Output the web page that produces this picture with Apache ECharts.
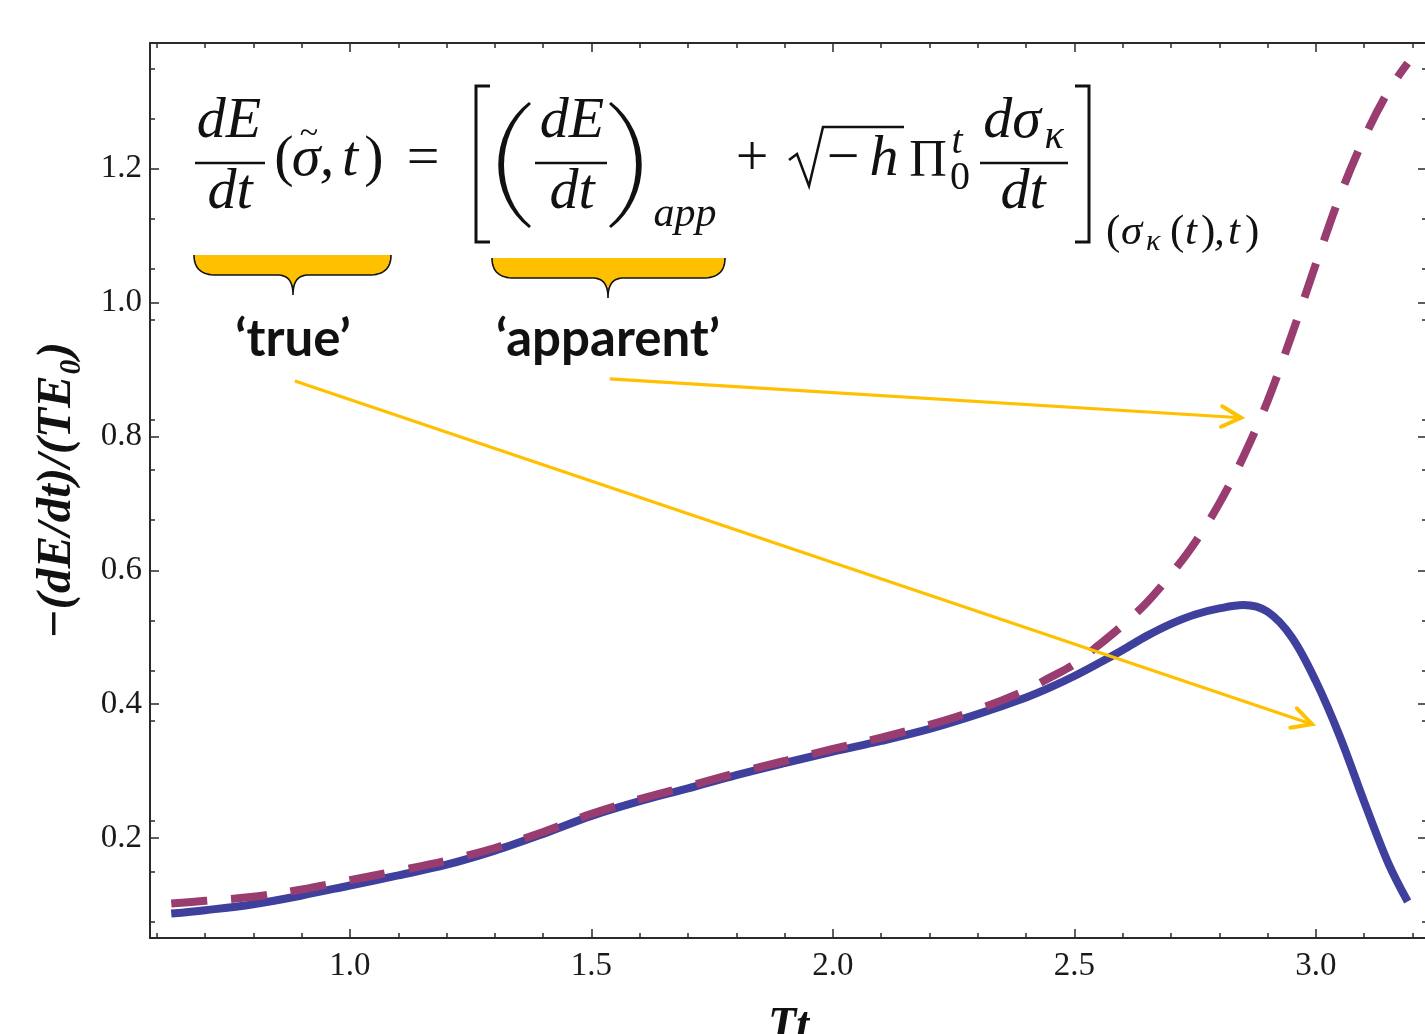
<!DOCTYPE html>
<html>
<head>
<meta charset="utf-8">
<title>-(dE/dt)/(TE0) vs Tt</title>
<script src="https://cdn.jsdelivr.net/npm/echarts@6/dist/echarts.min.js"></script>
<style>
    html, body { margin: 0; padding: 0; background: #fff; }
    #chart { width: 1425px; height: 1034px; }
</style>
</head>
<body>
<div id="chart"></div>
<script>
// Tt samples shared by both curves
const tt = [0.63, 0.7, 0.8, 0.9, 1.0, 1.1, 1.2, 1.3, 1.4, 1.5, 1.6, 1.7, 1.8, 1.9, 2.0,
    2.1, 2.2, 2.3, 2.4, 2.45, 2.5, 2.55, 2.6, 2.65, 2.7, 2.75, 2.8, 2.85, 2.9, 2.95,
    3.0, 3.05, 3.1, 3.15, 3.19];

// 'true' rate (solid)
const trueRate = [0.087, 0.092, 0.101, 0.114, 0.129, 0.144, 0.160, 0.181, 0.206, 0.233,
    0.255, 0.274, 0.294, 0.312, 0.329, 0.345, 0.363, 0.385, 0.410, 0.425, 0.442, 0.461,
    0.481, 0.502, 0.520, 0.534, 0.543, 0.548, 0.538, 0.500, 0.434, 0.351, 0.254, 0.162, 0.105];

// 'apparent' rate (dashed)
const apparentRate = [0.102, 0.106, 0.112, 0.123, 0.137, 0.151, 0.166, 0.185, 0.209, 0.236,
    0.258, 0.277, 0.297, 0.315, 0.333, 0.350, 0.369, 0.392, 0.421, 0.440, 0.460, 0.488,
    0.518, 0.552, 0.594, 0.642, 0.700, 0.770, 0.853, 0.952, 1.058, 1.160, 1.246, 1.316, 1.358];

const xTicks = [1.0, 1.5, 2.0, 2.5, 3.0];
const yTicks = [0.2, 0.4, 0.6, 0.8, 1.0, 1.2];

const xMin = 0.586, xMax = 3.23;
const yMin = 0.0505, yMax = 1.388;

// annotation arrows, in data coordinates [from, to]
const arrows = [
    [[0.886, 0.883], [2.992, 0.370]],
    [[1.538, 0.886], [2.845, 0.828]]
];

const frame = '#2a2a2a';
const ink = '#111';
const yellow = '#FFC000';
const serif = 'Liberation Serif';

// text helper: size in px, it = italic
const txt = (text, x, y, size, it, align, family, weight) => ({
    type: 'text', x: x, y: y, silent: true, z: 20,
    style: {
        text: text,
        fontFamily: family || serif,
        fontSize: size,
        fontStyle: it ? 'italic' : 'normal',
        fontWeight: weight || 'normal',
        fill: ink,
        align: align || 'center', textAlign: align || 'center',
        verticalAlign: 'middle', textVerticalAlign: 'middle'
    }
});
const seg = (points, w) => ({
    type: 'polyline', silent: true, z: 20,
    shape: { points: points },
    style: { stroke: ink, lineWidth: w || 2.5, fill: 'none' }
});
const bar = (x1, x2, y) => seg([[x1, y], [x2, y]], 2.5);

// sample a path made of ['M',x,y] ['L',x,y] ['C',x1,y1,x2,y2,x,y] into points
const sample = (cmds) => {
    const out = [];
    let cur = [0, 0];
    cmds.forEach(c => {
        if (c[0] === 'M' || c[0] === 'L') {
            cur = [c[1], c[2]];
            out.push(cur);
        } else {
            const p0 = cur, p1 = [c[1], c[2]], p2 = [c[3], c[4]], p3 = [c[5], c[6]];
            for (let i = 1; i <= 16; i++) {
                const s = i / 16, r = 1 - s;
                out.push([
                    r * r * r * p0[0] + 3 * r * r * s * p1[0] + 3 * r * s * s * p2[0] + s * s * s * p3[0],
                    r * r * r * p0[1] + 3 * r * r * s * p1[1] + 3 * r * s * s * p2[1] + s * s * s * p3[1]
                ]);
            }
            cur = p3;
        }
    });
    return out;
};
const blob = (cmds, fill) => ({
    type: 'polygon', silent: true, z: 20,
    shape: { points: sample(cmds) },
    style: { fill: fill, stroke: null }
});

const brace = (x0, x1, xm, top) => {
    const b = top + 20, tip = top + 40;
    const lower = [
        ['M', x0, top], ['C', x0, b - 6, x0 + 8, b, x0 + 22, b], ['L', xm - 16, b],
        ['C', xm - 5, b, xm, b + 6, xm, tip], ['C', xm, b + 6, xm + 5, b, xm + 16, b],
        ['L', x1 - 22, b], ['C', x1 - 8, b, x1, b - 6, x1, top]
    ];
    return [
        blob(lower, yellow),
        { ...seg(sample(lower), 1.6), z: 21 }
    ];
};

const paren = (x0, xOut, xIn, top, bottom, dir) => {
    const w = 2 * dir;
    return blob([
        ['M', x0, top], ['C', xOut, top + 32, xOut, bottom - 32, x0, bottom],
        ['L', x0 + w, bottom - 2], ['C', xIn, bottom - 32, xIn, top + 32, x0 + w, top + 2]
    ], ink);
};

const formula = [
    txt('dE', 229, 122, 58, true), bar(195, 265, 163), txt('dt', 230, 193, 58, true),
    txt('(', 284, 160, 58), txt('σ', 306, 160, 58, true), txt('~', 309, 134, 34),
    txt(',', 327, 160, 58, true), txt('t', 350, 160, 58, true), txt(')', 374, 160, 58),
    txt('=', 423, 160, 58),
    seg([[490, 86], [476, 86], [476, 242], [490, 242]], 3),
    paren(529, 488, 495, 102, 228, 1),
    txt('dE', 572, 122, 58, true), bar(535, 607, 163), txt('dt', 572, 193, 58, true),
    paren(611, 652, 645, 102, 228, -1),
    txt('app', 685, 215, 42, true),
    txt('+', 752, 160, 58),
    seg([[789, 160], [797, 154], [809, 186], [823, 127], [904, 127]], 2.5),
    txt('−', 843, 160, 58), txt('h', 884, 160, 58, true),
    txt('Π', 928, 162, 52),
    txt('t', 957, 142, 40, true),
    txt('0', 960, 178, 40),
    txt('dσ', 1012, 122, 58, true), txt('κ', 1054, 137, 40, true),
    bar(980, 1068, 163), txt('dt', 1023, 193, 58, true),
    seg([[1075, 86], [1089, 86], [1089, 242], [1075, 242]], 3),
    txt('(', 1106, 233, 43, false, 'left'), txt('σ', 1121, 233, 43, true, 'left'),
    txt('κ', 1146, 242, 30, true, 'left'),
    txt('(', 1170, 233, 43, false, 'left'), txt('t', 1185, 233, 43, true, 'left'),
    txt(')', 1201, 233, 43, false, 'left'), txt(',', 1214, 233, 43, true, 'left'),
    txt('t', 1228, 233, 43, true, 'left'), txt(')', 1245, 233, 43, false, 'left'),
    ...brace(194, 391, 293, 255),
    ...brace(492, 725, 608, 258),
    txt('‘true’', 293, 340, 51, false, 'center', 'Lato', 'bold'),
    txt('‘apparent’', 608, 340, 51, false, 'center', 'Lato', 'bold')
];

const tickStyle = { color: frame, width: 1.5 };
const xAxisBase = {
    type: 'value', min: xMin, max: xMax,
    axisLine: { show: true, onZero: false, lineStyle: { color: frame, width: 2 } },
    axisTick: { show: true, inside: true, length: 9, customValues: xTicks, lineStyle: tickStyle },
    minorTick: { show: true, splitNumber: 5, length: 5, lineStyle: tickStyle },
    splitLine: { show: false },
    minorSplitLine: { show: false }
};
const yAxisBase = {
    type: 'value', min: yMin, max: yMax,
    axisLine: { show: true, onZero: false, lineStyle: { color: frame, width: 2 } },
    axisTick: { show: true, inside: true, length: 9, customValues: yTicks, lineStyle: tickStyle },
    minorTick: { show: true, splitNumber: 4, length: 5, lineStyle: tickStyle },
    splitLine: { show: false },
    minorSplitLine: { show: false }
};
const labelStyle = {
    color: '#1a1a1a',
    fontFamily: serif,
    fontSize: 33,
    formatter: v => v.toFixed(1)
};

const chart = echarts.init(document.getElementById('chart'));

const option = {
    animation: false,
    backgroundColor: '#fff',
    textStyle: { fontFamily: serif },
    grid: { left: 150, top: 43, width: 1277, height: 895, outerBoundsMode: 'none', containLabel: false },
    xAxis: [
        {
            ...xAxisBase, position: 'bottom',
            axisLabel: { ...labelStyle, margin: 12, customValues: xTicks },
            name: 'Tt', nameLocation: 'middle', nameGap: 66,
            nameTextStyle: { fontFamily: serif, fontStyle: 'italic', fontWeight: 'bold', fontSize: 46, color: ink }
        },
        { ...xAxisBase, position: 'top', axisLabel: { show: false } }
    ],
    yAxis: [
        {
            ...yAxisBase, position: 'left',
            axisLabel: { ...labelStyle, margin: 8, customValues: yTicks },
            name: '−(dE/dt)/(TE₀)', nameLocation: 'middle', nameGap: 68, nameRotate: 90,
            nameTextStyle: { fontFamily: serif, fontStyle: 'italic', fontWeight: 'bold', fontSize: 49, color: ink }
        },
        { ...yAxisBase, position: 'right', axisLabel: { show: false } }
    ],
    series: [
        {
            name: 'true',
            type: 'line',
            data: tt.map((t, i) => [t, trueRate[i]]),
            smooth: 0.35,
            showSymbol: false,
            lineStyle: { color: '#3F3F9D', width: 8 },
            z: 2
        },
        {
            name: 'apparent',
            type: 'line',
            data: tt.map((t, i) => [t, apparentRate[i]]),
            smooth: 0.35,
            showSymbol: false,
            lineStyle: { color: '#993D70', width: 8, type: [36, 24], cap: 'butt' },
            z: 3
        }
    ],
    graphic: formula
};

chart.setOption(option);

// arrows drawn from data coordinates
const arrowEls = [];
arrows.forEach(([from, to]) => {
    const p0 = chart.convertToPixel({ gridIndex: 0 }, from);
    const p1 = chart.convertToPixel({ gridIndex: 0 }, to);
    const ang = Math.atan2(p1[1] - p0[1], p1[0] - p0[0]);
    const len = 22, spread = Math.PI / 6.5;
    const a1 = [p1[0] - len * Math.cos(ang - spread), p1[1] - len * Math.sin(ang - spread)];
    const a2 = [p1[0] - len * Math.cos(ang + spread), p1[1] - len * Math.sin(ang + spread)];
    arrowEls.push({
        type: 'polyline', silent: true, z: 15,
        shape: { points: [p0, p1] },
        style: { stroke: yellow, lineWidth: 3.2, fill: 'none' }
    });
    arrowEls.push({
        type: 'polyline', silent: true, z: 15,
        shape: { points: [a1, p1, a2] },
        style: { stroke: yellow, lineWidth: 4, fill: 'none', lineJoin: 'miter', lineCap: 'round' }
    });
});
chart.setOption({ graphic: formula.concat(arrowEls) });

window.addEventListener('resize', () => chart.resize());
</script>
</body>
</html>
